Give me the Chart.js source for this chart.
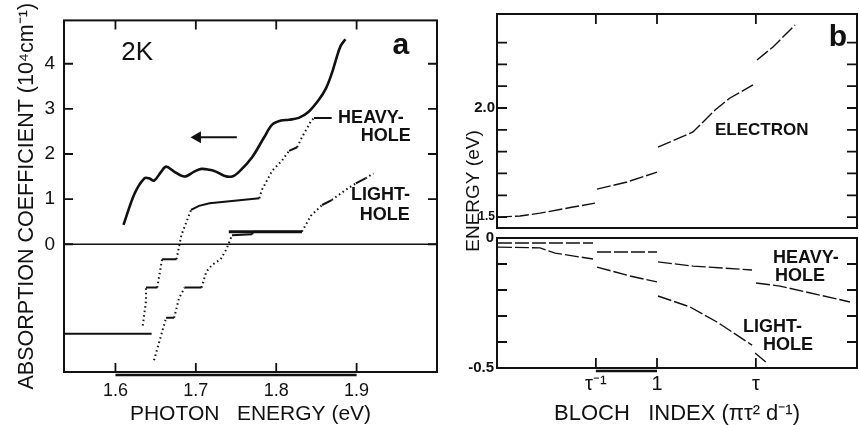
<!DOCTYPE html>
<html>
<head>
<meta charset="utf-8">
<script src="https://cdn.jsdelivr.net/npm/chart.js@4.4.1/dist/chart.umd.min.js"></script>
<style>
  html, body { margin: 0; padding: 0; background: #fff; }
  #wrap { position: relative; width: 859px; height: 425px; }
  canvas { position: absolute; left: 0; top: 0; }
</style>
</head>
<body>
<div id="wrap">
  <canvas id="panelA" width="859" height="425"></canvas>
  <canvas id="panelBtop" width="859" height="425"></canvas>
  <canvas id="panelBbottom" width="859" height="425"></canvas>
</div>
<script>
    // DATA - PANEL A (absorption, 2K)

    const photonTicks = [1.6, 1.7, 1.8, 1.9]
    const absTicks = [0, 1, 2, 3, 4]

    const measE = [1.610, 1.624, 1.636, 1.642, 1.648, 1.657, 1.663, 1.673, 1.686, 1.698, 1.707, 1.717, 1.725, 1.735, 1.745, 1.754, 1.770, 1.785, 1.795, 1.806, 1.816, 1.828, 1.840, 1.853, 1.862, 1.869, 1.874, 1.880, 1.886]
    const measK = [0.43, 1.13, 1.46, 1.46, 1.41, 1.61, 1.72, 1.61, 1.50, 1.61, 1.67, 1.65, 1.61, 1.52, 1.50, 1.61, 1.93, 2.37, 2.65, 2.74, 2.76, 2.80, 2.93, 3.20, 3.46, 3.78, 4.07, 4.39, 4.54]

    const heavyE = [1.634, 1.638, 1.638, 1.652, 1.658, 1.676, 1.682, 1.694, 1.704, 1.717, 1.745, 1.779, 1.782, 1.795, 1.807, 1.816, 1.826, 1.832, 1.843, 1.847, 1.869]
    const heavyK = [-1.80, -1.26, -0.96, -0.96, -0.33, -0.33, 0.20, 0.76, 0.85, 0.91, 0.96, 1.02, 1.20, 1.63, 1.85, 2.07, 2.15, 2.37, 2.72, 2.80, 2.80]

    const lightE = [1.648, 1.663, 1.673, 1.679, 1.686, 1.707, 1.713, 1.720, 1.731, 1.738, 1.745, 1.770, 1.772, 1.832, 1.843, 1.857, 1.869, 1.886, 1.899, 1.911, 1.921]
    const lightK = [-2.57, -1.63, -1.63, -1.20, -0.96, -0.96, -0.61, -0.46, -0.33, -0.11, 0.20, 0.22, 0.28, 0.28, 0.63, 0.87, 0.98, 1.20, 1.35, 1.46, 1.57]

    const shelfHighE = [1.741, 1.832]
    const shelfHighK = [0.28, 0.28]
    const shelfLowE = [1.536, 1.645]
    const shelfLowK = [-1.98, -1.98]

    const arrowE = [1.702, 1.751]
    const arrowK = [2.37, 2.37]

    // DATA - PANEL B (minibands vs Bloch index)

    const blochTicks = [0.618, 1, 1.618]
    const blochLabels = ['τ⁻¹', '1', 'τ']
    const upperTickMarks = [1.5, 1.6, 1.7, 1.8, 1.9, 2.0, 2.1, 2.2, 2.3]
    const upperTickLabels = [1.5, 2.0]
    const lowerTickMarks = [0, -0.1, -0.2, -0.3, -0.4, -0.5]
    const lowerTickLabels = [0, -0.5]

    const electronX = [0.006, 0.144, 0.269, 0.475, 0.613, null, 0.625, 0.813, 1.0, null, 1.006, 1.225, 1.363, 1.456, 1.6, null, 1.625, 1.725, 1.863]
    const electronE = [1.500, 1.505, 1.518, 1.546, 1.564, null, 1.628, 1.661, 1.706, null, 1.821, 1.890, 1.991, 2.046, 2.106, null, 2.220, 2.280, 2.381]

    const bandHeavyX = [0.006, 0.6, null, 0.625, 1.0, null, 1.006, 1.225, 1.594, null, 1.619, 1.769, 2.206]
    const bandHeavyE = [-0.019, -0.019, null, -0.054, -0.054, null, -0.092, -0.108, -0.123, null, -0.173, -0.185, -0.246]

    const bandLightX = [0.006, 0.269, 0.363, 0.6, null, 0.625, 0.831, 1.0, null, 1.006, 1.206, 1.375, 1.594, null, 1.613, 1.688]
    const bandLightE = [-0.035, -0.038, -0.058, -0.081, null, -0.112, -0.146, -0.169, null, -0.223, -0.265, -0.323, -0.412, null, -0.442, -0.481]

    // HELPERS

    var INK = '#111';
    var FONT = "'Liberation Sans', Arial, sans-serif";

    function pts(xs, ys) {
        return xs.map(function (x, i) { return { x: x, y: ys[i] }; });
    }

    function fixTicks(list) {
        return function (scale) { scale.ticks = list.map(function (v) { return { value: v }; }); };
    }

    // frame box + inward ticks + the little bar under the x axis
    var frame = {
        id: 'frame',
        afterDraw: function (chart, args, opts) {
            var ctx = chart.ctx, a = chart.chartArea;
            var sx = chart.scales.x, sy = chart.scales.y;
            var len = opts.len || 9;
            ctx.save();
            ctx.strokeStyle = INK;
            ctx.lineWidth = 2;
            ctx.strokeRect(a.left, a.top, a.right - a.left, a.bottom - a.top);
            ctx.lineWidth = 1.8;
            ctx.beginPath();
            (opts.xTicks || []).forEach(function (v) {
                var px = sx.getPixelForValue(v);
                if (opts.top) { ctx.moveTo(px, a.top); ctx.lineTo(px, a.top + len); }
                if (opts.bottom) { ctx.moveTo(px, a.bottom); ctx.lineTo(px, a.bottom - len); }
            });
            (opts.yTicks || []).forEach(function (v) {
                var py = sy.getPixelForValue(v);
                ctx.moveTo(a.left, py); ctx.lineTo(a.left + len, py);
                ctx.moveTo(a.right, py); ctx.lineTo(a.right - len, py);
            });
            ctx.stroke();
            if (opts.bar) {
                ctx.lineWidth = 2.5;
                ctx.beginPath();
                ctx.moveTo(sx.getPixelForValue(opts.bar[0]), a.bottom + 3);
                ctx.lineTo(sx.getPixelForValue(opts.bar[1]), a.bottom + 3);
                ctx.stroke();
            }
            ctx.restore();
        }
    };

    // text labels inside the plots
    var notes = {
        id: 'notes',
        afterDraw: function (chart, args, opts) {
            var ctx = chart.ctx;
            (opts.items || []).forEach(function (t) {
                var px = t.px !== undefined ? t.px : chart.scales.x.getPixelForValue(t.x);
                var py = t.py !== undefined ? t.py : chart.scales.y.getPixelForValue(t.y);
                ctx.save();
                ctx.font = t.font;
                ctx.fillStyle = INK;
                ctx.textAlign = t.align || 'left';
                ctx.textBaseline = 'middle';
                ctx.translate(px, py);
                if (t.rot) ctx.rotate(t.rot * Math.PI / 180);
                ctx.fillText(t.text, 0, 0);
                ctx.restore();
            });
        }
    };

    // steep parts of the staircases are dotted, the flat steps solid
    function stairDash(ctx) {
        var dx = Math.abs(ctx.p1.x - ctx.p0.x), dy = Math.abs(ctx.p1.y - ctx.p0.y);
        return dy > dx * 0.6 ? [1.5, 3] : undefined;
    }

    function baseOptions() {
        return {
            responsive: false,
            animation: false,
            events: [],
            plugins: { legend: { display: false }, tooltip: { enabled: false } }
        };
    }

    // PANEL A

    var optA = baseOptions();
    optA.layout = { padding: { left: 0, top: 14, right: 422, bottom: 0 } };
    optA.scales = {
        x: {
            type: 'linear', min: 1.536, max: 2.0,
            afterBuildTicks: fixTicks(photonTicks),
            afterFit: function (s) { s.height = 53; },
            grid: { display: false, drawTicks: false },
            border: { display: false },
            ticks: { padding: 8, color: INK, font: { family: FONT, size: 18 }, maxRotation: 0, autoSkip: false,
                callback: function (v) { return v.toFixed(1); } },
            title: { display: true, text: 'PHOTON   ENERGY (eV)', color: INK, padding: 0,
                font: { family: FONT, size: 21, lineHeight: 1 } }
        },
        y: {
            type: 'linear', min: -2.83, max: 4.96,
            afterBuildTicks: fixTicks(absTicks),
            afterFit: function (s) { s.width = 64; },
            grid: { display: false, drawTicks: false },
            border: { display: false },
            ticks: { padding: 9, color: INK, font: { family: FONT, size: 19 } },
            title: { display: true, text: 'ABSORPTION COEFFICIENT (10⁴cm⁻¹)', color: INK, padding: { top: 16 },
                font: { family: FONT, size: 21.5, lineHeight: 1 } }
        }
    };
    optA.plugins.frame = { xTicks: photonTicks, yTicks: absTicks, top: true, bottom: true, len: 9, bar: [1.6, 1.9] };
    optA.plugins.notes = { items: [
        { text: '2K', x: 1.627, y: 4.24, font: '26px ' + FONT, align: 'center' },
        { text: 'a', x: 1.955, y: 4.40, font: 'bold 30px ' + FONT, align: 'center' },
        { text: 'HEAVY-', x: 1.877, y: 2.80, font: 'bold 18px ' + FONT },
        { text: 'HOLE', x: 1.905, y: 2.39, font: 'bold 18px ' + FONT },
        { text: 'LIGHT-', x: 1.893, y: 1.09, font: 'bold 18px ' + FONT },
        { text: 'HOLE', x: 1.904, y: 0.65, font: 'bold 18px ' + FONT }
    ] };

    var graficoA = new Chart(document.getElementById('panelA').getContext('2d'), {
        type: 'scatter',
        data: {
            datasets: [
                { data: pts([1.536, 2.0], [0, 0]), showLine: true, borderColor: INK, borderWidth: 1.5, pointRadius: 0 },
                { data: pts(measE, measK), showLine: true, borderColor: INK, borderWidth: 2.6, pointRadius: 0, tension: 0.35 },
                { data: pts(heavyE, heavyK), showLine: true, borderColor: INK, borderWidth: 2, pointRadius: 0, segment: { borderDash: stairDash } },
                { data: pts(lightE, lightK), showLine: true, borderColor: INK, borderWidth: 2, pointRadius: 0, segment: { borderDash: stairDash } },
                { data: pts(shelfHighE, shelfHighK), showLine: true, borderColor: INK, borderWidth: 3, pointRadius: 0 },
                { data: pts(shelfLowE, shelfLowK), showLine: true, borderColor: INK, borderWidth: 2, pointRadius: 0 },
                { data: pts(arrowE, arrowK), showLine: true, borderColor: INK, backgroundColor: INK, borderWidth: 2,
                  pointStyle: 'triangle', pointRotation: -90, pointRadius: [5, 0] }
            ]
        },
        options: optA,
        plugins: [frame, notes]
    });

    // PANEL B - upper part (electron)

    var optBt = baseOptions();
    optBt.layout = { padding: { left: 0, top: 14, right: 2, bottom: 197 } };
    optBt.scales = {
        x: { type: 'linear', min: 0, max: 2.25, display: false },
        y: {
            type: 'linear', min: 1.45, max: 2.431,
            afterBuildTicks: fixTicks(upperTickLabels),
            afterFit: function (s) { s.width = 497; },
            grid: { display: false, drawTicks: false },
            border: { display: false },
            ticks: { padding: 2, color: INK,
                font: function (c) { return { family: FONT, size: c.tick && c.tick.value === 1.5 ? 12 : 15, weight: 'bold' }; },
                callback: function (v) { return v.toFixed(1); } }
        }
    };
    optBt.plugins.frame = { xTicks: blochTicks, yTicks: upperTickMarks, top: true, bottom: false, len: 10 };
    optBt.plugins.notes = { items: [
        { text: 'ELECTRON', x: 1.3625, y: 1.899, font: 'bold 17px ' + FONT },
        { text: 'b', x: 2.13, y: 2.32, font: 'bold 30px ' + FONT, align: 'center' },
        { text: 'ENERGY (eV)', px: 474, py: 191, rot: -90, font: '19px ' + FONT, align: 'center' }
    ] };

    var graficoBtop = new Chart(document.getElementById('panelBtop').getContext('2d'), {
        type: 'scatter',
        data: {
            datasets: [
                { data: pts(electronX, electronE), showLine: true, spanGaps: false, borderColor: INK, borderWidth: 1.4,
                  borderDash: [14, 3], pointRadius: 0 }
            ]
        },
        options: optBt,
        plugins: [frame, notes]
    });

    // PANEL B - lower part (holes)

    var optBb = baseOptions();
    optBb.layout = { padding: { left: 0, top: 238, right: 2, bottom: 0 } };
    optBb.scales = {
        x: {
            type: 'linear', min: 0, max: 2.25,
            afterBuildTicks: fixTicks(blochTicks),
            afterFit: function (s) { s.height = 57; },
            grid: { display: false, drawTicks: false },
            border: { display: false },
            ticks: { padding: 4, color: INK, font: { family: FONT, size: 20 }, maxRotation: 0, autoSkip: false,
                callback: function (v, i) { return blochLabels[i]; } },
            title: { display: true, text: 'BLOCH   INDEX (πτ² d⁻¹)', color: INK, padding: 0,
                font: { family: FONT, size: 22, lineHeight: 1 } }
        },
        y: {
            type: 'linear', min: -0.5, max: 0,
            afterBuildTicks: fixTicks(lowerTickLabels),
            afterFit: function (s) { s.width = 497; },
            grid: { display: false, drawTicks: false },
            border: { display: false },
            ticks: { padding: 3, color: INK, font: { family: FONT, size: 15, weight: 'bold' },
                callback: function (v) { return v === 0 ? '0' : v.toFixed(1); } }
        }
    };
    optBb.plugins.frame = { xTicks: blochTicks, yTicks: lowerTickMarks, top: false, bottom: true, len: 10, bar: [0.618, 1] };
    optBb.plugins.notes = { items: [
        { text: 'HEAVY-', x: 1.725, y: -0.077, font: 'bold 18px ' + FONT },
        { text: 'HOLE', x: 1.7375, y: -0.146, font: 'bold 18px ' + FONT },
        { text: 'LIGHT-', x: 1.5375, y: -0.342, font: 'bold 18px ' + FONT },
        { text: 'HOLE', x: 1.6625, y: -0.412, font: 'bold 18px ' + FONT }
    ] };

    var graficoBbottom = new Chart(document.getElementById('panelBbottom').getContext('2d'), {
        type: 'scatter',
        data: {
            datasets: [
                { data: pts(bandHeavyX, bandHeavyE), showLine: true, spanGaps: false, borderColor: INK, borderWidth: 1.4,
                  borderDash: [14, 3], pointRadius: 0 },
                { data: pts(bandLightX, bandLightE), showLine: true, spanGaps: false, borderColor: INK, borderWidth: 1.4,
                  borderDash: [14, 3], pointRadius: 0 }
            ]
        },
        options: optBb,
        plugins: [frame, notes]
    });
</script>
</body>
</html>
